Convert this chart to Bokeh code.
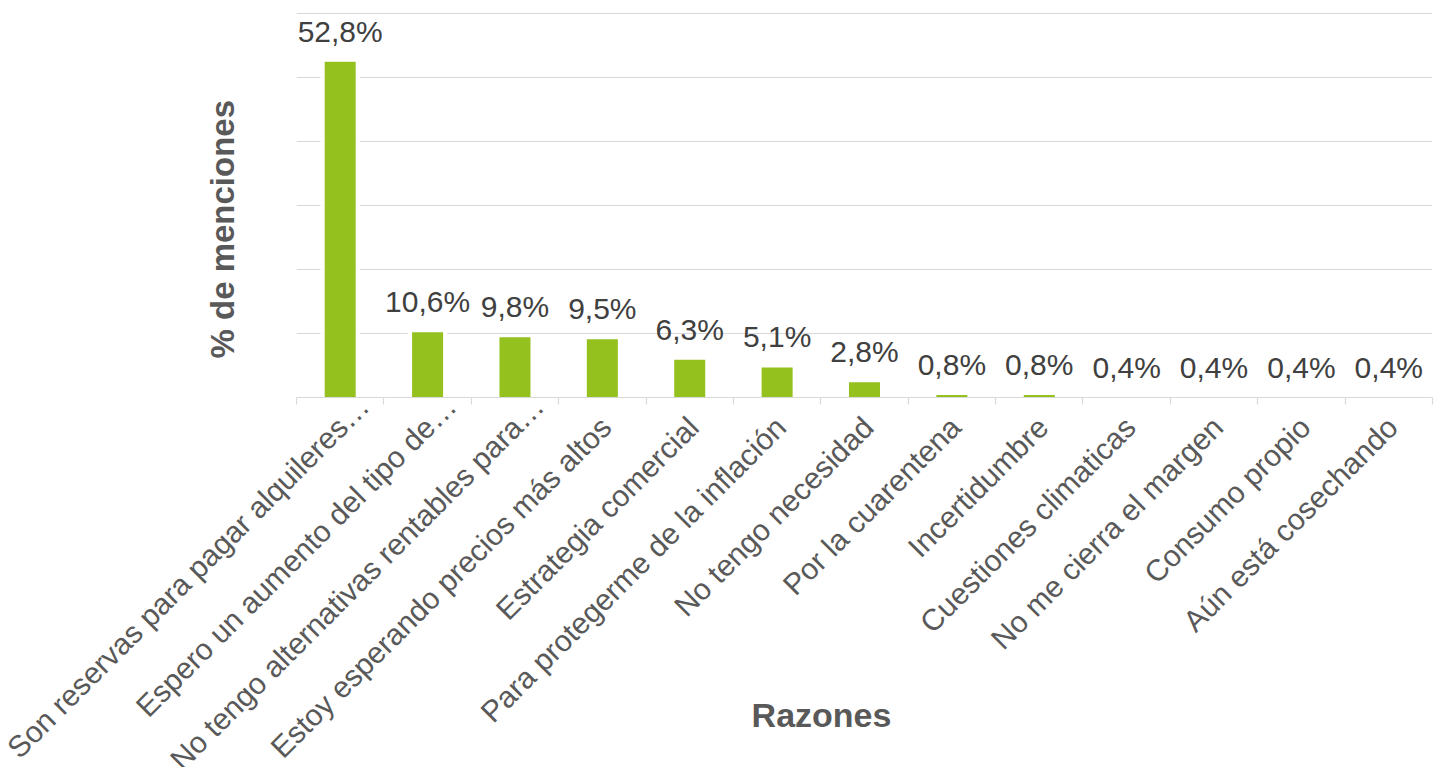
import math
from bokeh.plotting import figure
from bokeh.models import (ColumnDataSource, Range1d, FixedTicker, LabelSet, Label)
from bokeh.layouts import column, row
from bokeh.core.properties import value
from bokeh.embed import file_html
from bokeh.resources import INLINE

categories = [
    "Son reservas para pagar alquileres…",
    "Espero un aumento del tipo de…",
    "No tengo alternativas rentables para…",
    "Estoy esperando precios más altos",
    "Estrategia comercial",
    "Para protegerme de la inflación",
    "No tengo necesidad",
    "Por la cuarentena",
    "Incertidumbre",
    "Cuestiones climaticas",
    "No me cierra el margen",
    "Consumo propio",
    "Aún está cosechando",
]
values = [52.8, 10.6, 9.8, 9.5, 6.3, 5.1, 2.8, 0.8, 0.8, 0.4, 0.4, 0.4, 0.4]
value_labels = ["52,8%", "10,6%", "9,8%", "9,5%", "6,3%", "5,1%", "2,8%",
                "0,8%", "0,8%", "0,4%", "0,4%", "0,4%", "0,4%"]
y_min = 0.4
y_max = 60.4
y_step = 10
x_title = "Razones"
y_title = "% de menciones"

# ---- layout constants (pixels) ----
W = 1434          # total width
LEFT = 296        # plot area left edge
RIGHT_PAD = 2
TOP = 12
PLOT_BOTTOM = 397
TOP_H = PLOT_BOTTOM + 8   # height of the upper row
BOT_H = 362               # height of the label strip below

GREEN = "#95C11F"
GRID = "#D9D9D9"
FONT = "Liberation Sans"

n = len(categories)
xs = list(range(n))
src = ColumnDataSource(dict(x=xs, top=values, lab=value_labels,
                            bottom=[y_min] * n))

# ---------------- main chart ----------------
p = figure(width=W - LEFT, height=TOP_H, output_backend="svg",
           toolbar_location=None,
           x_range=Range1d(-0.5, n - 0.5), y_range=Range1d(y_min, y_max + 0.1),
           min_border_left=0, min_border_right=RIGHT_PAD, min_border_top=TOP,
           min_border_bottom=TOP_H - PLOT_BOTTOM)
p.outline_line_color = None
p.background_fill_color = "white"
p.border_fill_color = "white"

p.vbar(x="x", top="top", bottom="bottom", width=0.45, source=src,
       fill_color="white", line_color=None)
p.vbar(x="x", top="top", bottom="bottom", width=0.355, source=src,
       fill_color=GREEN, line_color=None)

yt = [y_min + y_step * k for k in range(int(round((y_max - y_min) / y_step)) + 1)]
p.ygrid.ticker = FixedTicker(ticks=yt)
p.ygrid.grid_line_color = GRID
p.ygrid.grid_line_width = 1.2
p.xgrid.grid_line_color = None
p.yaxis.visible = False

p.xaxis.ticker = FixedTicker(ticks=xs, minor_ticks=[i - 0.5 for i in range(n + 1)])
p.xaxis.major_label_overrides = {i: "" for i in xs}
p.xaxis.major_label_text_font_size = "0px"
p.xaxis.major_label_standoff = 0
p.xaxis.major_tick_line_color = None
p.xaxis.major_tick_out = 0
p.xaxis.major_tick_in = 0
p.xaxis.minor_tick_line_color = GRID
p.xaxis.minor_tick_line_width = 1.2
p.xaxis.minor_tick_out = 7
p.xaxis.minor_tick_in = 0
p.xaxis.axis_line_color = GRID
p.xaxis.axis_line_width = 1.2

p.add_layout(LabelSet(x="x", y="top", text="lab", source=src, y_offset=20,
                      text_align="center", text_baseline="alphabetic",
                      text_font=value(FONT), text_font_size="30px",
                      text_color="#404040"))

# ---------------- y title strip (left) ----------------
pl = figure(width=LEFT, height=TOP_H, output_backend="svg", toolbar_location=None,
            x_range=Range1d(0, LEFT), y_range=Range1d(0, TOP_H),
            min_border=0)
pl.axis.visible = False
pl.grid.visible = False
pl.outline_line_color = None
pl.add_layout(Label(x=222, y=TOP_H - 228, text=y_title, angle=math.pi / 2,
                    text_align="center", text_baseline="middle",
                    text_font=FONT, text_font_size="33px",
                    text_font_style="bold", text_color="#595959"))

# ---------------- category labels strip (below) ----------------
px_per_cat = (W - LEFT - RIGHT_PAD) / n
pb = figure(width=W, height=BOT_H, output_backend="svg", toolbar_location=None,
            x_range=Range1d(-0.5 - LEFT / px_per_cat,
                            n - 0.5 + RIGHT_PAD / px_per_cat),
            y_range=Range1d(-BOT_H, 0), min_border=0)
pb.axis.visible = False
pb.grid.visible = False
pb.outline_line_color = None

# truncated names (ending in "…") sit higher than the complete ones
groups = [
    ([i for i in xs if categories[i].endswith("…")], 31, -3),
    ([i for i in xs if not categories[i].endswith("…")], 11, -24),
]
for idx, xo, yo in groups:
    s = ColumnDataSource(dict(x=idx, base=[0] * len(idx),
                              cat=[categories[i] for i in idx]))
    pb.add_layout(LabelSet(x="x", y="base", text="cat", source=s,
                           angle=math.pi / 4, text_align="right",
                           text_baseline="alphabetic",
                           x_offset=xo, y_offset=yo,
                           text_font=value(FONT), text_font_size="30px",
                           text_color="#595959"))

title_x = (821 - LEFT) / px_per_cat - 0.5
pb.add_layout(Label(x=title_x, y=-(714 - TOP_H), text=x_title,
                    text_align="center", text_baseline="middle",
                    text_font=FONT, text_font_size="34px", text_font_style="bold",
                    text_color="#595959"))

layout = column(row(pl, p, spacing=0), pb, spacing=0)
open("out.html", "w").write(file_html(layout, INLINE))
